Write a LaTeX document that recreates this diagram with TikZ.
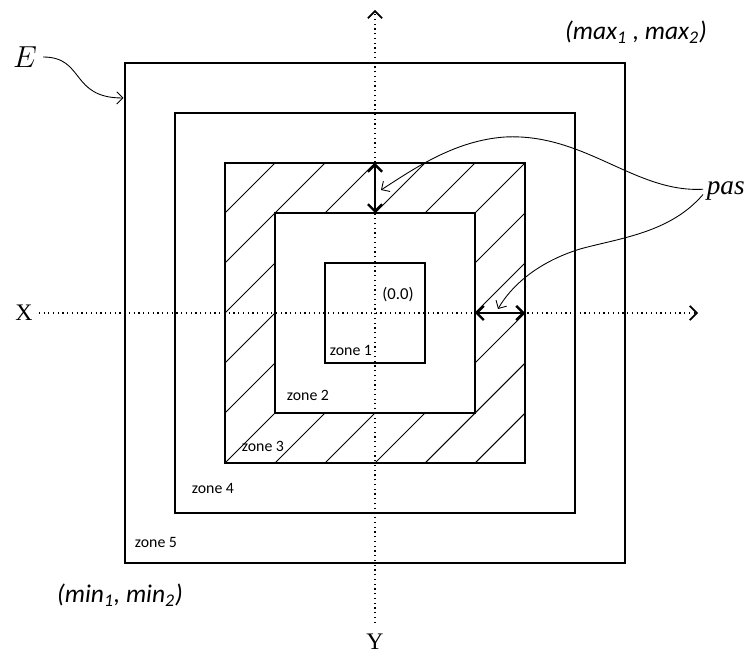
\documentclass[tikz,border=0pt]{standalone}
\usepackage{fontspec}
\setsansfont{Carlito}
\newfontfamily\timesfont{Liberation Serif}
\usetikzlibrary{arrows.meta,positioning,calc}

\begin{document}
\begin{tikzpicture}[>={Straight Barb[length=3.5pt,width=7pt]},
    zonebox/.style={draw,line width=1pt,minimum size=#1,inner sep=0pt,outer sep=0pt},
    hatchline/.style={line width=0.6pt},
    axisline/.style={-{Straight Barb[length=4pt,width=8pt,line width=1pt]},dotted,line width=0.7pt},
    pasarrow/.style={{Straight Barb[length=4pt,width=8pt]}-{Straight Barb[length=4pt,width=8pt]},line width=1.4pt},
    callout/.style={->,line width=0.5pt},
    zonelbl/.style={font=\sffamily\fontsize{9}{10}\selectfont,inner sep=0pt},
    bounds/.style={font=\sffamily\itshape\fontsize{14.5}{16}\selectfont},
    axislbl/.style={font=\timesfont\fontsize{13.5}{15}\selectfont}]
  \useasboundingbox (-7.5,-6.88) rectangle (7.46,6.26);
  \begin{scope}[even odd rule]
    \clip (-3,-3) rectangle (3,3) (-2,-2) rectangle (2,2);
    \foreach \k in {-6,...,6}
      \draw[hatchline] (\k-4,-4) -- (\k+4,4);
  \end{scope}
  \node[zonebox=10cm] (sq5) at (0,0) {};
  \node[zonebox=8cm] (sq4) at (0,0) {};
  \node[zonebox=6cm] (sq3) at (0,0) {};
  \node[zonebox=4cm] (sq2) at (0,0) {};
  \node[zonebox=2cm] (sq1) at (0,0) {};
  \node[axislbl] (X) at (-7.02,0) {X};
  \node[axislbl] (Y) at (0,-6.58) {Y};
  \coordinate (xend) at (6.46,0);
  \coordinate (yend) at (0,6.06);
  \draw[axisline] (X.east) -- (xend);
  \draw[axisline,shorten <=3pt] (Y.north) -- (yend);
  \node[zonelbl] (z1) at (-0.48,-0.74) {zone 1};
  \node[zonelbl] (z2) at (-1.34,-1.64) {zone 2};
  \node[zonelbl] (z3) at (-2.24,-2.66) {zone 3};
  \node[zonelbl] (z4) at (-3.24,-3.5) {zone 4};
  \node[zonelbl] (z5) at (-4.38,-4.58) {zone 5};
  \node[font=\sffamily\fontsize{9.5}{10}\selectfont,inner sep=0pt] (orig) at (0.46,0.36) {(0.0)};
  \node[bounds] (maxlbl) at (5.22,5.62) {(max\textsubscript{1} , max\textsubscript{2})};
  \node[bounds] (minlbl) at (-5.1,-5.64) {(min\textsubscript{1}, min\textsubscript{2})};
  \draw[pasarrow] (sq3.north) -- (sq2.north);
  \draw[pasarrow] (sq2.east) -- (sq3.east);
  \node[font=\timesfont\itshape\fontsize{15.5}{17}\selectfont,anchor=west,inner sep=2pt] (pas) at (6.56,2.44) {pas};
  \coordinate (pastipA) at (0.12,2.46);
  \coordinate (pastipB) at (2.46,0.08);
  \draw[callout] ([yshift=1pt]pas.west) .. controls (5.2,2.4) and (4.2,3.6) .. (2.6,3.52)
    .. controls (1.6,3.45) and (0.8,2.9) .. (pastipA);
  \draw[callout] ([yshift=-2pt]pas.west) .. controls (5.9,1.6) and (4.9,1.5) .. (4.1,1.28)
    .. controls (3.2,1.0) and (2.7,0.5) .. (pastipB);
  \node[font=\fontsize{16}{18}\selectfont] (E) at (-7.0,5.12) {$E$};
  \coordinate (Etip) at (-5.03,4.3);
  \draw[callout] (E.east) .. controls (-5.8,5.12) and (-6.1,4.3) .. (Etip);
\end{tikzpicture}
\end{document}
